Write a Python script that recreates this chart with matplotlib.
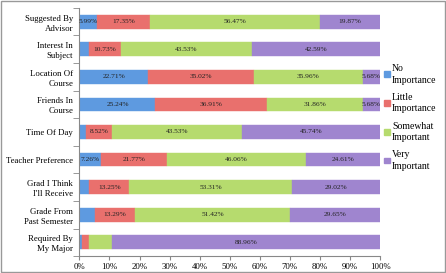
import numpy as np
import matplotlib
matplotlib.use("Agg")
import matplotlib.pyplot as plt
from matplotlib.patches import Rectangle

plt.rcParams['font.family'] = ['Liberation Serif', 'DejaVu Serif']

# categories top to bottom
categories = ["Suggested By\nAdvisor", "Interest In\nSubject", "Location Of\nCourse",
              "Friends In\nCourse", "Time Of Day", "Teacher Preference",
              "Grad I Think\nI'll Receive", "Grade From\nPast Semester", "Required By\nMy Major"]
series_names = ["No\nImportance", "Little\nImportance", "Somewhat\nImportant", "Very\nImportant"]

no_imp = [5.99, 3.15, 22.71, 25.24, 2.21, 7.26, 3.2, 5.2, 0.8]
little_imp = [17.35, 10.73, 35.02, 36.91, 8.52, 21.77, 13.25, 13.29, 2.5]
somewhat_imp = [56.47, 43.53, 35.96, 31.86, 43.53, 46.06, 53.31, 51.42, 7.6]
very_imp = [19.87, 42.59, 5.68, 5.68, 45.74, 24.61, 29.02, 29.65, 88.96]

# which segments carry a label (small ones are unlabeled)
show_no = [True, False, True, True, False, True, False, False, False]
show_little = [True, True, True, True, True, True, True, True, False]
show_somewhat = [True, True, True, True, True, True, True, True, False]
show_very = [True] * 9

colors = ["#5E9AE0", "#E9706D", "#B6DB6E", "#9F85CF"]

data = np.array([no_imp, little_imp, somewhat_imp, very_imp])
shares = data / data.sum(axis=0) * 100
shows = [show_no, show_little, show_somewhat, show_very]

fig = plt.figure(figsize=(4.46, 2.73), dpi=100)
ax = fig.add_axes([0.178, 0.062, 0.674, 0.909])

y = np.arange(len(categories))
left = np.zeros(len(categories))
for i in range(4):
    ax.barh(y, shares[i], left=left, height=0.5, color=colors[i], edgecolor=colors[i], linewidth=0.3)
    for j in range(len(categories)):
        if shows[i][j]:
            ax.text(left[j] + shares[i][j] / 2, y[j], "%.2f%%" % data[i][j],
                    ha="center", va="center", fontsize=5.3, color="#222222")
    left += shares[i]

ax.set_xlim(0, 100)
ax.set_ylim(len(categories) - 0.5, -0.5)
ax.set_xticks(np.arange(0, 101, 10))
ax.set_xticklabels(["%d%%" % v for v in range(0, 101, 10)], fontsize=6.3)
ax.set_yticks(y)
ax.set_yticklabels(categories, fontsize=6.3, linespacing=1.3)
ax.tick_params(axis="y", length=0, pad=4.5)
ax.set_yticks(np.arange(-0.5, len(categories), 1), minor=True)
ax.tick_params(axis="y", which="minor", length=4, color="#888888")
ax.tick_params(axis="x", length=3, color="#888888", pad=2)
for s in ["top", "right"]:
    ax.spines[s].set_visible(False)
for s in ["left", "bottom"]:
    ax.spines[s].set_color("#888888")
    ax.spines[s].set_linewidth(0.8)

handles = [Rectangle((0, 0), 1, 1, color=c) for c in colors]
leg = fig.legend(handles, series_names, loc="center left", bbox_to_anchor=(0.853, 0.57),
                 frameon=False, fontsize=7, handlelength=0.55, handleheight=0.55,
                 handletextpad=0.25, labelspacing=0.85, borderaxespad=0)
for t in leg.get_texts():
    t.set_linespacing(1.35)

fig.patches.append(Rectangle((0.002, 0.004), 0.995, 0.992, transform=fig.transFigure,
                             fill=False, edgecolor="#999999", linewidth=1))

fig.savefig("out.png", dpi=100)
